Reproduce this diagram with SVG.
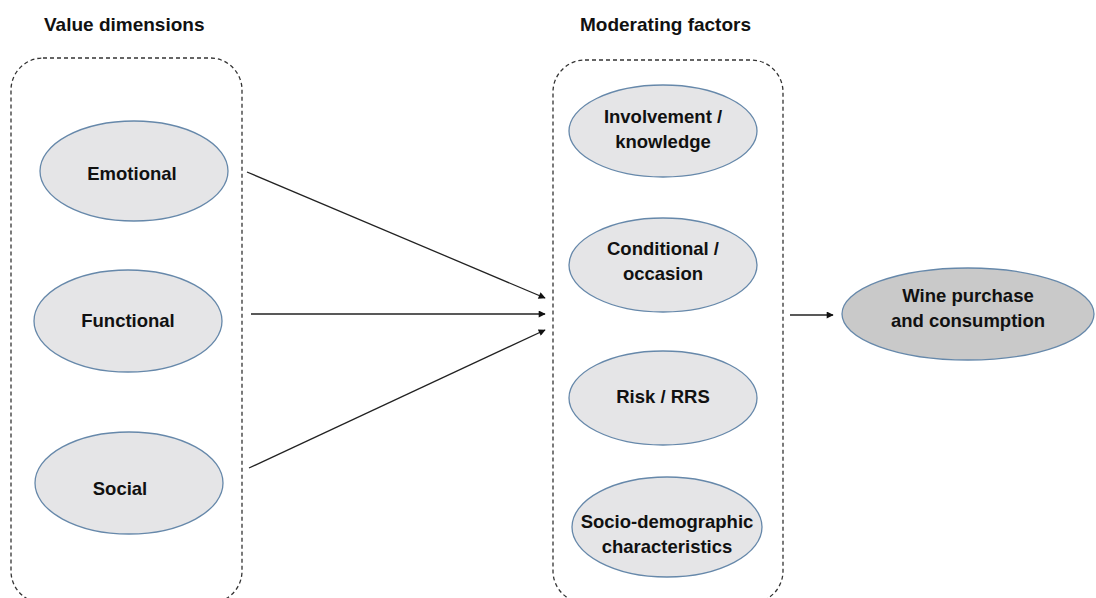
<svg xmlns="http://www.w3.org/2000/svg" width="1096" height="598" viewBox="0 0 1096 598">
  <defs>
    <marker id="arrow" viewBox="0 0 10 10" refX="9" refY="5" markerWidth="9" markerHeight="7" orient="auto" markerUnits="userSpaceOnUse">
      <path d="M0,0 L10,5 L0,10 z" fill="#111"/>
    </marker>
    <style>
      .title { font-family: "Liberation Sans", Arial, sans-serif; font-weight: bold; font-size: 19px; fill: #111; }
      .label { font-family: "Liberation Sans", Arial, sans-serif; font-weight: bold; font-size: 18.5px; fill: #111; text-anchor: middle; }
      .node { fill: #e5e5e7; stroke: #6688aa; stroke-width: 1.3; }
      .outcome { fill: #c9c9c9; stroke: #6688aa; stroke-width: 1.3; }
      .group { fill: none; stroke: #333; stroke-width: 1.3; stroke-dasharray: 4 3; }
      .edge { stroke: #222; stroke-width: 1.3; fill: none; marker-end: url(#arrow); }
    </style>
  </defs>
  <rect width="1096" height="598" fill="#ffffff"/>

  <text class="title" x="44" y="31">Value dimensions</text>
  <text class="title" x="580" y="31">Moderating factors</text>

  <rect class="group" x="11" y="58" width="231" height="545" rx="32" ry="32"/>
  <rect class="group" x="553" y="60" width="230" height="543" rx="32" ry="32"/>

  <g id="emotional">
    <ellipse class="node" cx="134" cy="171" rx="94" ry="50"/>
    <text class="label" x="132" y="180">Emotional</text>
  </g>
  <g id="functional">
    <ellipse class="node" cx="128" cy="321" rx="94" ry="51"/>
    <text class="label" x="128" y="327">Functional</text>
  </g>
  <g id="social">
    <ellipse class="node" cx="129" cy="483" rx="94" ry="51"/>
    <text class="label" x="120" y="495">Social</text>
  </g>

  <g id="involvement">
    <ellipse class="node" cx="663" cy="131" rx="94" ry="46"/>
    <text class="label" x="663" y="123">Involvement /</text>
    <text class="label" x="663" y="148">knowledge</text>
  </g>
  <g id="conditional">
    <ellipse class="node" cx="663" cy="265" rx="94" ry="47"/>
    <text class="label" x="663" y="255">Conditional /</text>
    <text class="label" x="663" y="280">occasion</text>
  </g>
  <g id="risk">
    <ellipse class="node" cx="663" cy="398" rx="94" ry="47"/>
    <text class="label" x="663" y="403">Risk / RRS</text>
  </g>
  <g id="sociodemographic">
    <ellipse class="node" cx="667" cy="527" rx="95" ry="50"/>
    <text class="label" x="667" y="528">Socio-demographic</text>
    <text class="label" x="667" y="553">characteristics</text>
  </g>

  <g id="wine">
    <ellipse class="outcome" cx="968" cy="314" rx="126" ry="46"/>
    <text class="label" x="968" y="302">Wine purchase</text>
    <text class="label" x="968" y="327">and consumption</text>
  </g>

  <g id="connectors">
    <line class="edge" x1="247" y1="172" x2="545" y2="298"/>
    <line class="edge" x1="251" y1="314" x2="545" y2="314"/>
    <line class="edge" x1="249" y1="468" x2="545" y2="330"/>
    <line class="edge" x1="790" y1="315" x2="833" y2="315"/>
  </g>
</svg>
